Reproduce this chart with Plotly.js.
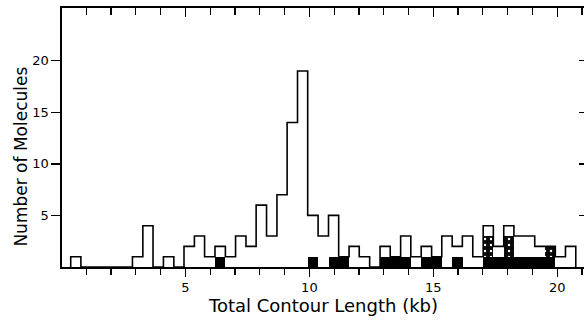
<!DOCTYPE html>
<html>
<head>
<meta charset="utf-8">
<script src="https://cdn.plot.ly/plotly-3.0.1.min.js"></script>
<style>
html,body{margin:0;padding:0;background:#fff;overflow:hidden;}
#chart{width:588px;height:322px;}
</style>
</head>
<body>
<div id="chart"></div>
<script>
// Bin centres (kb) of the histogram
var binCenters = [0.58, 0.99, 1.41, 1.82, 2.24, 2.66, 3.07, 3.49, 3.90, 4.32,
  4.74, 5.15, 5.57, 5.98, 6.40, 6.82, 7.23, 7.65, 8.06, 8.48,
  8.90, 9.31, 9.73, 10.14, 10.56, 10.98, 11.39, 11.81, 12.22, 12.64,
  13.06, 13.47, 13.89, 14.30, 14.72, 15.14, 15.55, 15.97, 16.38, 16.80,
  17.22, 17.63, 18.05, 18.46, 18.88, 19.30, 19.71, 20.13, 20.54];
// Total number of molecules per bin (open histogram)
var totalCounts = [1, 0, 0, 0, 0, 0, 1, 4, 0, 1,
  0, 2, 3, 1, 2, 1, 3, 2, 6, 3,
  7, 14, 19, 5, 3, 5, 1, 2, 1, 0,
  2, 1, 3, 1, 2, 1, 3, 2, 3, 1,
  4, 2, 4, 3, 3, 2, 2, 1, 2];
// Solid black portion per bin
var blackCounts = [0, 0, 0, 0, 0, 0, 0, 0, 0, 0,
  0, 0, 0, 0, 1, 0, 0, 0, 0, 0,
  0, 0, 0, 1, 0, 1, 1, 0, 0, 0,
  1, 1, 1, 0, 1, 1, 0, 1, 0, 0,
  1, 1, 1, 1, 1, 1, 1, 0, 0];
// Stippled portion per bin (stacked on the black)
var stippleCounts = [0, 0, 0, 0, 0, 0, 0, 0, 0, 0,
  0, 0, 0, 0, 0, 0, 0, 0, 0, 0,
  0, 0, 0, 0, 0, 0, 0, 0, 0, 0,
  0, 0, 0, 0, 0, 0, 0, 0, 0, 0,
  2, 0, 2, 0, 0, 0, 1, 0, 0];
var xTicks = [5, 10, 15, 20];
var yTicks = [5, 10, 15, 20];

var binWidth = 0.416;

// Build the step outline from the bin centres and counts
var stepX = [binCenters[0] - binWidth / 2], stepY = [0];
for (var i = 0; i < binCenters.length; i++) {
  stepX.push(binCenters[i] - binWidth / 2);
  stepY.push(totalCounts[i]);
}
var lastRight = binCenters[binCenters.length - 1] + binWidth / 2;
stepX.push(lastRight); stepY.push(totalCounts[totalCounts.length - 1]);
stepX.push(lastRight); stepY.push(0);

var FONT = '"DejaVu Sans", "Open Sans", sans-serif';

var traces = [
  {type: 'bar', x: binCenters, y: blackCounts, width: binWidth,
   marker: {color: '#000', line: {width: 0}}, hoverinfo: 'skip', showlegend: false},
  {type: 'bar', x: binCenters, y: stippleCounts, width: binWidth,
   marker: {color: '#000', line: {width: 0},
            pattern: {shape: '.', fgcolor: '#fff', bgcolor: '#0a0a0a', size: 6, solidity: 0.12}},
   hoverinfo: 'skip', showlegend: false},
  {type: 'scatter', mode: 'lines', x: stepX, y: stepY,
   line: {color: '#000', width: 1.6, shape: 'hv'}, hoverinfo: 'skip', showlegend: false},
  {type: 'scatter', mode: 'lines', x: [], y: [], xaxis: 'x2', yaxis: 'y2',
   showlegend: false, hoverinfo: 'skip'}
];

var axisCommon = {
  showgrid: false, zeroline: false, showline: true,
  linecolor: '#000', linewidth: 1.6, tickcolor: '#000', tickwidth: 1.4
};

var layout = {
  width: 588, height: 322,
  margin: {l: 62, r: 3, t: 8, b: 55, pad: 0},
  paper_bgcolor: '#fff', plot_bgcolor: '#fff',
  barmode: 'stack', bargap: 0,
  font: {family: FONT, color: '#000', size: 13},
  xaxis: Object.assign({}, axisCommon, {
    range: [0.02, 21.12],
    tickmode: 'array', tickvals: xTicks, ticktext: xTicks.map(String),
    ticks: 'outside', ticklen: 8,
    minor: {tickmode: 'linear', tick0: 0, dtick: 1, ticks: 'outside', ticklen: 6, tickwidth: 1.2, tickcolor: '#000', showgrid: false},
    tickfont: {family: FONT, size: 13, color: '#000'},
    title: {text: 'Total Contour Length (kb)', font: {family: FONT, size: 18, color: '#000'}, standoff: 5}
  }),
  xaxis2: Object.assign({}, axisCommon, {
    overlaying: 'x', side: 'top', matches: 'x',
    tickmode: 'array', tickvals: xTicks,
    ticks: 'inside', ticklen: 9, showticklabels: false,
    minor: {tickmode: 'linear', tick0: 0, dtick: 1, ticks: 'inside', ticklen: 7, tickwidth: 1.2, tickcolor: '#000', showgrid: false}
  }),
  yaxis: Object.assign({}, axisCommon, {
    range: [0, 25.1],
    tickmode: 'array', tickvals: yTicks, ticktext: yTicks.map(String),
    ticks: 'outside', ticklen: 9,
    tickfont: {family: FONT, size: 13, color: '#000'}
  }),
  yaxis2: Object.assign({}, axisCommon, {
    overlaying: 'y', side: 'right', matches: 'y',
    tickmode: 'array', tickvals: yTicks,
    ticks: 'inside', ticklen: 6, showticklabels: false
  }),
  annotations: [{
    text: 'Number of Molecules', textangle: -90, showarrow: false,
    xref: 'paper', yref: 'paper', x: -0.079, y: 0.425,
    xanchor: 'center', yanchor: 'middle',
    font: {family: FONT, size: 17, color: '#000'}
  }]
};

Plotly.newPlot('chart', traces, layout, {displayModeBar: false, staticPlot: true});
</script>
</body>
</html>
